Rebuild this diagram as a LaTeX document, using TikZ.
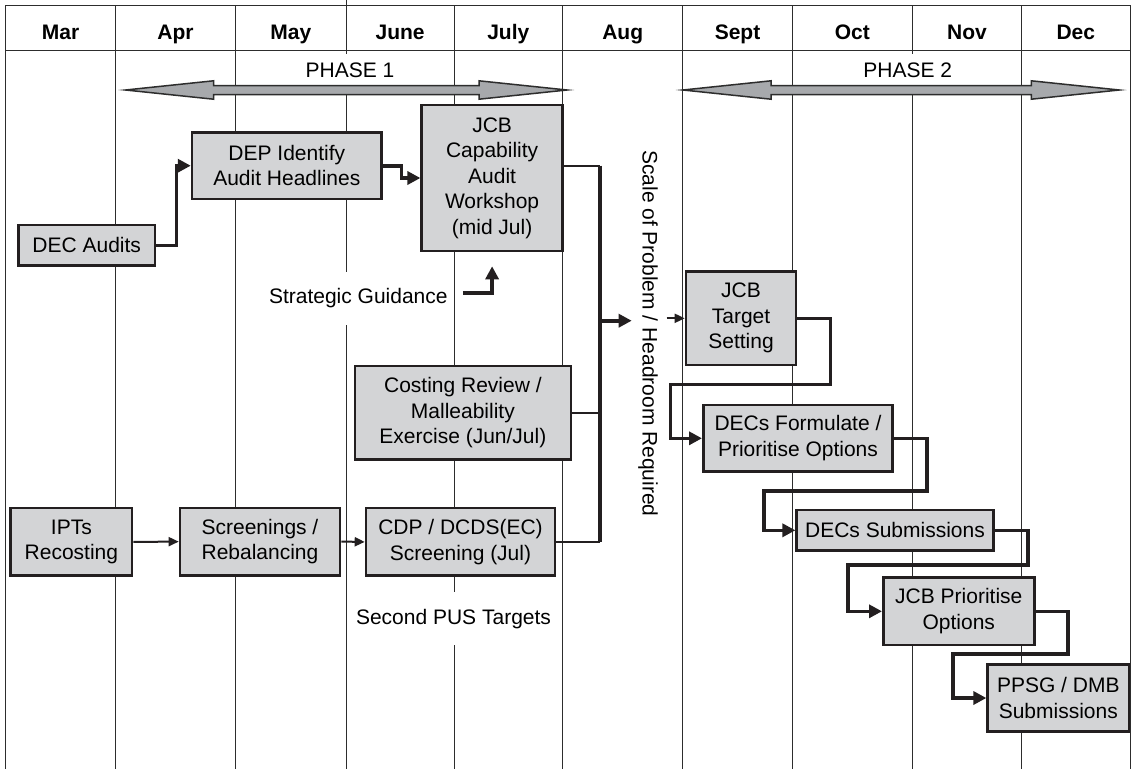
\documentclass[tikz,border=0pt]{standalone}
\usepackage{fontspec}
\setmainfont{Liberation Sans}
\usetikzlibrary{arrows.meta}
\usetikzlibrary{calc}

\definecolor{boxfill}{RGB}{211,212,214}
\definecolor{boxline}{RGB}{35,31,32}
\definecolor{arrowfill}{RGB}{167,169,172}
\definecolor{gridgray}{RGB}{45,45,45}

\tikzset{
  gridline/.style={draw=gridgray, line width=1pt},
  month/.style={font=\fontsize{21}{25.5}\selectfont\bfseries, anchor=base},
  phaselabel/.style={fill=white, inner xsep=3pt, minimum height=32pt},
  phasearrow/.style={draw=gridgray, fill=arrowfill, line width=1.5pt, line join=miter},
  task/.style={draw=boxline, fill=boxfill, line width=2.6pt, align=center, inner sep=0pt},
  note/.style={fill=white, inner xsep=2pt, minimum height=53pt},
  flowline/.style={draw=boxline, line width=3.6pt},
  thinflow/.style={draw=boxline, line width=2pt, >={Triangle[length=10pt,width=9pt]}}
}

\begin{document}
\begin{tikzpicture}[x=1pt, y=-1pt, >={Triangle[length=13pt,width=13pt]},
  font=\fontsize{21}{25.5}\selectfont]
\useasboundingbox (0,0) rectangle (1131,769);
\fill[white] (0,0) rectangle (1131,769);

%month grid
\foreach \x in {5.7,115.6,235.5,346.3,454,562.7,682.7,792.3,912.3,1021.7,1130} {
  \draw[gridline] (\x,5) -- (\x,769);
}
\draw[gridline] (5.7,5) -- (1130,5);
\draw[gridline] (5.7,50) -- (1130,50);
\draw[gridline] (346.3,0) -- (346.3,5);
\foreach \m/\x in {Mar/60.6,Apr/175.5,May/290.9,June/400.1,July/508.3,Aug/622.7,Sept/737.5,Oct/852.3,Nov/967,Dec/1075.8} {
  \node[month] (hdr\m) at (\x,39.3) {\m};
}

%phases
\node[phaselabel] (phaseA) at (350,70) {PHASE 1};
\node[phaselabel] (phaseB) at (907.8,70) {PHASE 2};
\foreach \a/\b in {125.5/567,683/1119.3} {
  \draw[phasearrow] (\a,90) -- (\a+88,80.8) -- (\a+88,85.5) -- (\b-88,85.5) -- (\b-88,80.8)
    -- (\b,90) -- (\b-88,99.2) -- (\b-88,94.5) -- (\a+88,94.5) -- (\a+88,99.2) -- cycle;
}

%phase 1 boxes
\node[task, minimum width=136.6pt, minimum height=40.7pt] (decaud) at (86.7,245.4) {DEC Audits};
\node[task, minimum width=189.5pt, minimum height=66.7pt] (depid) at (286.8,165.7) {DEP Identify\\Audit Headlines};
\node[task, minimum width=140.8pt, minimum height=146pt] (jcbcap) at (492.1,178) {JCB\\Capability\\Audit\\Workshop\\(mid Jul)};
\node[task, minimum width=216.2pt, minimum height=93.3pt] (costing) at (462.9,412.7) {Costing Review /\\Malleability\\Exercise (Jun/Jul)};
\node[task, minimum width=121.3pt, minimum height=67.7pt] (ipts) at (71.4,541.9) {IPTs\\Recosting};
\node[task, minimum width=160pt, minimum height=67.3pt] (screen) at (260,541.6) {Screenings /\\Rebalancing};
\node[task, minimum width=189pt, minimum height=67.7pt] (cdp) at (460.5,541.9) {CDP / DCDS(EC)\\Screening (Jul)};

\node[note] (stratg) at (358.3,298) {Strategic Guidance};
\node[note] (pus) at (453.5,618.8) {Second PUS Targets};
\node[rotate=-90, anchor=west, inner sep=0pt] (scale) at (648,150) {Scale of Problem / Headroom Required};

%phase 2 boxes
\node[task, minimum width=110pt, minimum height=93.3pt] (jcbtgt) at (741,318.3) {JCB\\Target\\Setting};
\node[task, minimum width=189.4pt, minimum height=66.7pt] (decform) at (798,438.3) {DECs Formulate /\\Prioritise Options};
\node[task, minimum width=196.6pt, minimum height=40.7pt] (decsub) at (895,530.3) {DECs Submissions};
\node[task, minimum width=151pt, minimum height=67.3pt] (jcbprio) at (958.8,611.3) {JCB Prioritise\\Options};
\node[task, minimum width=141.3pt, minimum height=67.4pt] (ppsg) at (1058.3,698) {PPSG / DMB\\Submissions};

%connectors
\coordinate (bustop) at (600,165.7);
\coordinate (busmid) at (600,320.7);
\coordinate (busbot) at (600,541.9);
\coordinate (scaletip) at (631.7,320.7);

\draw[flowline,->] (decaud.east) -- ++(20.3,0) |- (depid.west);
\draw[flowline,->] (depid.east) -- ++(18.5,0) |- (jcbcap.west);
\draw[flowline,->] ($(stratg.east)+(13,-5.3)$) -| ([yshift=-14pt]jcbcap.south);

\draw[thinflow] ([yshift=12.3pt]jcbcap.east) -- (bustop);
\draw[thinflow] (costing.east) -- (costing.east -| bustop);
\draw[thinflow] (cdp.east) -- (busbot);
\draw[flowline] (bustop) -- (busbot);
\draw[flowline,->] (busmid) -- (scaletip);
\draw[thinflow,->] ([xshift=-18pt]jcbtgt.west) -- (jcbtgt.west);

\draw[thinflow,->] (ipts.east) -- (screen.west);
\draw[thinflow,->] (screen.east) -- (cdp.west);

\draw[flowline,->] (jcbtgt.east) -| ++(33.3,66) -| ([xshift=-31.6pt]decform.west) -- (decform.west);
\draw[flowline,->] (decform.east) -| ++(33,52.4) -| ([xshift=-31.7pt]decsub.west) -- (decsub.west);
\draw[flowline,->] (decsub.east) -| ++(33.4,34.7) -| ([xshift=-34pt]jcbprio.west) -- (jcbprio.west);
\draw[flowline,->] (jcbprio.east) -| ++(32.4,42.7) -| ([xshift=-33.4pt]ppsg.west) -- (ppsg.west);
\end{tikzpicture}
\end{document}
